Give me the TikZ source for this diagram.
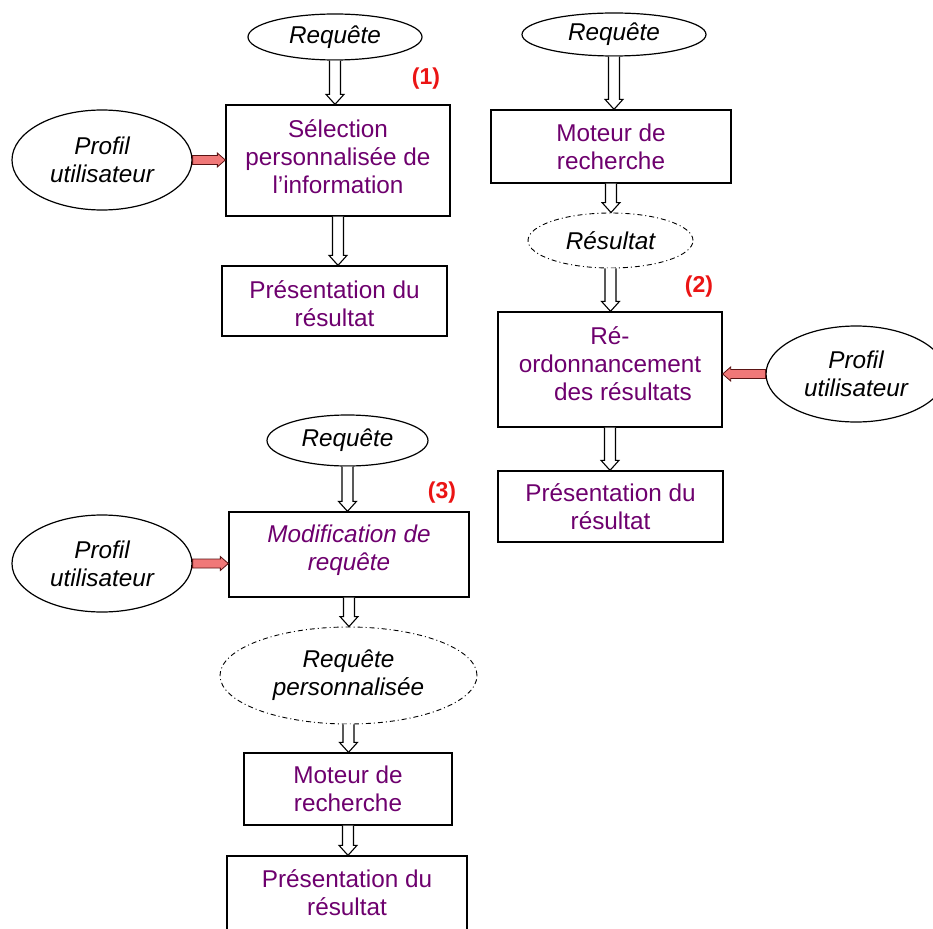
\documentclass[tikz,border=0pt]{standalone}
\usepackage{fontspec}
\setmainfont{Liberation Sans}
\usetikzlibrary{shapes.geometric,calc}
\definecolor{txtpurple}{RGB}{110,0,110}
\definecolor{arrpink}{RGB}{240,120,120}
\definecolor{arrborder}{RGB}{90,20,20}
\definecolor{lblred}{RGB}{235,20,20}
\newcommand\blockdown[2]{\draw[varr] let \p1=(#1.south), \p2=(#2.north) in
  (\x1-5.5pt,\y1) -- (\x1-5.5pt,\y2+10pt) -- (\x1-9pt,\y2+10pt) -- (\x1,\y2)
  -- (\x1+9pt,\y2+10pt) -- (\x1+5.5pt,\y2+10pt) -- (\x1+5.5pt,\y1);}
\newcommand\blockright[2]{\draw[harr] let \p1=(#1.east), \p2=(#2.west) in
  (\x1,\y1+4.5pt) -- (\x2-8pt,\y1+4.5pt) -- (\x2-8pt,\y1+7pt) -- (\x2,\y1)
  -- (\x2-8pt,\y1-7pt) -- (\x2-8pt,\y1-4.5pt) -- (\x1,\y1-4.5pt) -- cycle;}
\newcommand\blockleft[2]{\draw[harr] let \p1=(#1.west), \p2=(#2.east) in
  (\x1,\y1+4.5pt) -- (\x2+8pt,\y1+4.5pt) -- (\x2+8pt,\y1+7pt) -- (\x2,\y1)
  -- (\x2+8pt,\y1-7pt) -- (\x2+8pt,\y1-4.5pt) -- (\x1,\y1-4.5pt) -- cycle;}
\begin{document}
\begin{tikzpicture}[x=1pt,y=-1pt,
  boxtxt/.style={align=center, text=txtpurple,
    font=\fontsize{24.3}{28}\selectfont, inner sep=0pt},
  box/.style={boxtxt, draw, line width=1.3pt},
  ell/.style={ellipse, draw, line width=1.2pt, align=center,
    font=\itshape\fontsize{24.3}{28}\selectfont, inner sep=0pt},
  dell/.style={ell, line width=0.9pt, dash pattern=on 5pt off 3pt on 1pt off 3pt},
  varr/.style={draw, line width=1.1pt, fill=white},
  harr/.style={draw=arrborder, line width=0.8pt, fill=arrpink},
  lbl/.style={text=lblred, font=\bfseries\fontsize{23}{26}\selectfont}]
\useasboundingbox (0,0) rectangle (933,928);
\fill[white] (0,0) rectangle (933,928);
% Diagram 1
\node[ell, minimum width=174pt, minimum height=46pt] (req1) at (335,37) {Requête};
\node[box, minimum width=224pt, minimum height=111pt,
  label={[boxtxt, yshift=4pt]center:Sélection\\personnalisée de\\l’information}] (sel) at (338,160.5) {};
\node[ell, minimum width=180pt, minimum height=100pt] (prof1) at (102,160) {Profil\\utilisateur};
\node[box, minimum width=225pt, minimum height=70pt,
  label={[boxtxt, yshift=-3pt]center:Présentation du\\résultat}] (pres1) at (334.5,301) {};
\node[lbl] (l1) at (426,79) {(1)};
\blockdown{req1}{sel}
\blockdown{sel}{pres1}
\blockright{prof1}{sel}
% Diagram 2
\node[ell, minimum width=184pt, minimum height=43pt] (req2) at (614,34.5) {Requête};
\node[box, minimum width=240pt, minimum height=73pt] (mot2) at (611,146.5)
  {Moteur de\\recherche};
\node[dell, minimum width=165pt, minimum height=55pt] (res2) at (610.5,240.5) {Résultat};
\node[box, minimum width=224pt, minimum height=115pt,
  label={[boxtxt, yshift=6pt]center:Ré-\\ordonnancement\\\hspace*{26pt}des résultats}] (reo) at (610,369.5) {};
\node[ell, minimum width=180pt, minimum height=96pt] (prof2) at (856,374) {Profil\\utilisateur};
\node[box, minimum width=225pt, minimum height=71pt] (pres2) at (610.5,506.5)
  {Présentation du\\résultat};
\node[lbl] (l2) at (699,287) {(2)};
\blockdown{req2}{mot2}
\blockdown{mot2}{res2}
\blockdown{res2}{reo}
\blockdown{reo}{pres2}
\blockleft{prof2}{reo}
% Diagram 3
\node[ell, minimum width=161pt, minimum height=51pt] (req3) at (347.5,440.5) {Requête};
\node[box, minimum width=240pt, minimum height=85pt,
  label={[boxtxt, yshift=4pt, font=\itshape\fontsize{24.3}{28}\selectfont]center:Modification de\\requête}] (mod) at (349,554.5) {};
\node[ell, minimum width=180pt, minimum height=97pt] (prof3) at (102,563.5) {Profil\\utilisateur};
\node[dell, minimum width=257pt, minimum height=97pt] (rp) at (348.5,675.5) {Requête\\personnalisée};
\node[box, minimum width=208pt, minimum height=72pt] (mot3) at (348,789)
  {Moteur de\\recherche};
\node[box, minimum width=240pt, minimum height=74pt] (pres3) at (347,893)
  {Présentation du\\résultat};
\node[lbl] (l3) at (442,493) {(3)};
\blockdown{req3}{mod}
\blockdown{mod}{rp}
\blockdown{rp}{mot3}
\blockdown{mot3}{pres3}
\blockright{prof3}{mod}
\end{tikzpicture}
\end{document}
